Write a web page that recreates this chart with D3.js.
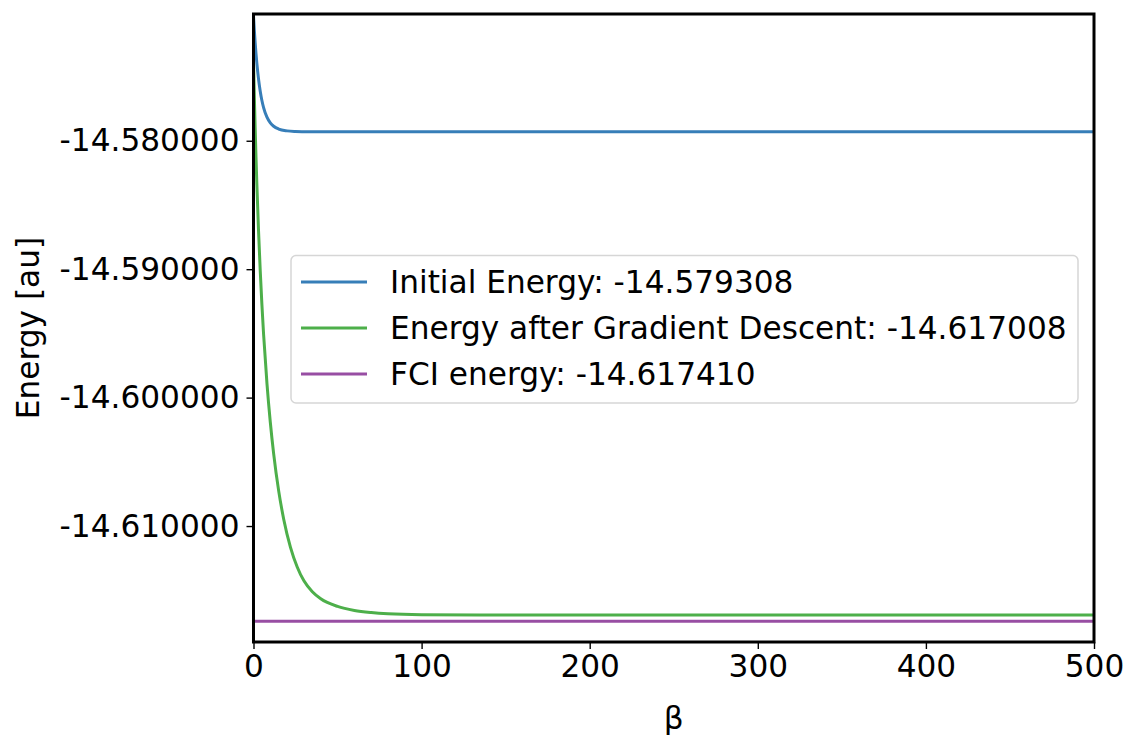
<!DOCTYPE html>
<html>
<head>
<meta charset="utf-8">
<script src="https://cdn.jsdelivr.net/npm/d3@7"></script>
<style>
  html, body { margin: 0; padding: 0; background: #fff; }
  text { font-family: "DejaVu Sans", sans-serif; fill: #000; }
</style>
</head>
<body>
<svg id="chart" width="1127" height="735"></svg>
<script>
// ---- data ----
const betaInitial   = [0, 0.5, 1, 1.5, 2, 3, 4, 5, 6, 8, 10, 12, 15, 20, 25, 30, 40, 50, 100, 200, 300, 400, 500];
const energyInitial = [-14.570276, -14.571397, -14.572370, -14.573227, -14.573974, -14.575197, -14.576139,
                       -14.576863, -14.577416, -14.578163, -14.578607, -14.578872, -14.579090, -14.579230,
                       -14.579277, -14.579292, -14.579304, -14.579308, -14.579308, -14.579308, -14.579308,
                       -14.579308, -14.579308];
const betaGD   = [0, 0.5, 1, 1.5, 2, 3, 4, 5, 6, 8, 10, 12, 15, 18, 22, 26, 30, 35, 40, 50, 60, 70, 80, 100,
                  150, 200, 300, 400, 500];
const energyGD = [-14.573794, -14.576558, -14.579057, -14.581323, -14.583394, -14.587023, -14.590114,
                  -14.592761, -14.595066, -14.598889, -14.601918, -14.604378, -14.607283, -14.609486,
                  -14.611659, -14.613185, -14.614267, -14.615116, -14.615661, -14.616260, -14.616572,
                  -14.616735, -14.616829, -14.616899, -14.616930, -14.616930, -14.616930, -14.616930,
                  -14.616930];
const betaFCI   = [0, 500];
const energyFCI = [-14.617410, -14.617410];
const legendLabels = ["Initial Energy: -14.579308",
                      "Energy after Gradient Descent: -14.617008",
                      "FCI energy: -14.617410"];
const xTicks = [0, 100, 200, 300, 400, 500];
const yTicks = [-14.58, -14.59, -14.60, -14.61];
const xLimits = [0, 500];
const yLimits = [-14.61903, -14.57013];

// ---- layout ----
const svg = d3.select("#chart");
const L = 253.5, T = 14, W = 840.5, H = 628;
const fs = 31.2;
const colors = ["#377eb8", "#4daf4a", "#984ea3"];

const x = d3.scaleLinear().domain(xLimits).range([L, L + W]);
const y = d3.scaleLinear().domain(yLimits).range([T + H, T]);

svg.append("defs").append("clipPath").attr("id", "clip")
  .append("rect").attr("x", L).attr("y", T).attr("width", W).attr("height", H);

const line = d3.line().x(d => x(d[0])).y(d => y(d[1])).curve(d3.curveMonotoneX);
const series = [
  d3.zip(betaInitial, energyInitial),
  d3.zip(betaGD, energyGD),
  d3.zip(betaFCI, energyFCI)
];
const g = svg.append("g").attr("clip-path", "url(#clip)");
series.forEach((s, i) => {
  g.append("path").datum(s).attr("d", line)
    .attr("fill", "none").attr("stroke", colors[i]).attr("stroke-width", 3);
});

// axes
const xAxis = d3.axisBottom(x).tickValues(xTicks).tickSize(7).tickPadding(6).tickFormat(d3.format("d"));
const yAxis = d3.axisLeft(y).tickValues(yTicks).tickSize(7).tickPadding(7).tickFormat(v => v.toFixed(6));

const gx = svg.append("g").attr("transform", `translate(0,${T + H})`).call(xAxis);
const gy = svg.append("g").attr("transform", `translate(${L},0)`).call(yAxis);
[gx, gy].forEach(a => {
  a.select(".domain").remove();
  a.selectAll(".tick line").attr("stroke", "#000").attr("stroke-width", 1.4);
  a.selectAll(".tick text").style("font-family", "DejaVu Sans").style("font-size", fs + "px").attr("fill", "#000");
});

// spines
svg.append("rect").attr("x", L).attr("y", T).attr("width", W).attr("height", H)
  .attr("fill", "none").attr("stroke", "#000").attr("stroke-width", 3);

// labels
svg.append("text").attr("x", L + W / 2).attr("y", 729).attr("text-anchor", "middle")
  .style("font-size", fs + "px").text("β");
svg.append("text").attr("transform", `translate(39,${T + H / 2}) rotate(-90)`).attr("text-anchor", "middle")
  .style("font-size", fs + "px").text("Energy [au]");

// legend
const lg = svg.append("g");
lg.append("rect").attr("x", 291).attr("y", 255.5).attr("width", 787).attr("height", 147.5)
  .attr("rx", 5).attr("fill", "#fff").attr("fill-opacity", 0.8)
  .attr("stroke", "#d6d6d6").attr("stroke-width", 1.5);
legendLabels.forEach((lab, i) => {
  const cy = 282 + i * 46;
  lg.append("line").attr("x1", 301).attr("x2", 367).attr("y1", cy).attr("y2", cy)
    .attr("stroke", colors[i]).attr("stroke-width", 3);
  lg.append("text").attr("x", 390).attr("y", cy).attr("dy", "0.35em")
    .style("font-size", fs + "px").text(lab);
});
</script>
</body>
</html>
